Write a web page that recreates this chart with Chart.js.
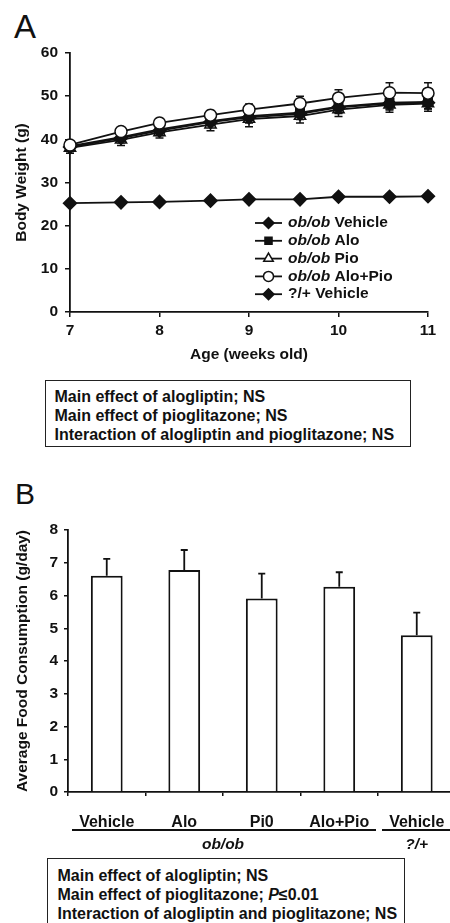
<!DOCTYPE html>
<html>
<head>
<meta charset="utf-8">
<script src="https://cdn.jsdelivr.net/npm/chart.js@4.4.1/dist/chart.umd.min.js"></script>
<style>
  html, body { margin: 0; padding: 0; background: #fff; }
  body { width: 450px; height: 923px; overflow: hidden; position: relative; font-family: "Liberation Sans", Arial, sans-serif; color: #111; }
  .painel { position: absolute; line-height: 1; }
  .caixa { position: absolute; border: 1.5px solid #222; font-weight: bold; font-size: 16px; line-height: 19px; box-sizing: border-box; white-space: nowrap; }
  canvas { position: absolute; left: 0; }
</style>
</head>
<body>
<div class="painel" style="left:14px; top:10px; font-size:33px;">A</div>
<canvas id="graficoPeso" width="450" height="372" style="top:0"></canvas>
<div class="caixa" style="left:45px; top:380px; width:366px; height:67px; padding:6px 0 0 8.5px;">Main effect of alogliptin; NS<br>Main effect of pioglitazone; NS<br>Interaction of alogliptin and pioglitazone; NS</div>
<div class="painel" style="left:15px; top:479px; font-size:30px;">B</div>
<canvas id="graficoConsumo" width="470" height="358" style="top:500px"></canvas>
<div class="caixa" style="left:47px; top:858px; width:358px; height:90px; padding:7px 0 0 9.5px;">Main effect of alogliptin; NS<br>Main effect of pioglitazone; <i>P</i>≤0.01<br>Interaction of alogliptin and pioglitazone; NS</div>

<script>
// Painel A: peso corporal (g) por idade (semanas)
const idades = [7, 7.57, 8, 8.57, 9, 9.57, 10, 10.57, 11];
const pesoVehicle = [38.2, 40.3, 42.0, 44.0, 45.1, 45.9, 47.4, 48.3, 48.5];
const pesoAlo = [38.4, 40.5, 42.3, 44.2, 45.4, 46.2, 47.6, 48.5, 48.7];
const pesoPio = [38.0, 39.9, 41.6, 43.4, 44.7, 45.4, 46.9, 48.0, 48.3];
const pesoAloPio = [38.7, 41.8, 43.8, 45.6, 46.9, 48.3, 49.6, 50.8, 50.7];
const pesoControle = [25.2, 25.4, 25.5, 25.8, 26.1, 26.1, 26.7, 26.7, 26.8];

const erroVehicle = [1.0, 1.1, 1.1, 1.2, 1.3, 1.3, 1.4, 1.5, 1.5];
const erroAlo = [1.0, 1.0, 1.2, 1.2, 1.3, 1.4, 1.4, 1.5, 1.6];
const erroPio = [1.2, 1.3, 1.3, 1.4, 1.8, 1.6, 1.6, 1.7, 1.8];
const erroAloPio = [0.9, 1.0, 1.0, 1.1, 1.3, 1.7, 1.9, 2.3, 2.4];
const erroControle = [0.4, 0.4, 0.4, 0.4, 0.5, 0.5, 0.5, 0.5, 0.5];

// legenda: parte em itálico + resto do texto
const legendaItalico = ["ob/ob", "ob/ob", "ob/ob", "ob/ob", ""];
const legendaResto = [" Vehicle", " Alo", " Pio", " Alo+Pio", "?/+ Vehicle"];

// Painel B: consumo médio de ração (g/dia)
const categorias = ["Vehicle", "Alo", "Pi0", "Alo+Pio", "Vehicle"];
const consumo = [6.60, 6.78, 5.91, 6.27, 4.79];
const erroConsumo = [0.52, 0.61, 0.76, 0.44, 0.69];
const grupos = ["ob/ob", "?/+"];
const grupoInicio = [0, 4];
const grupoFim = [3, 4];

const familia = '"Liberation Sans", Arial, sans-serif';
const fonte = { family: familia, size: 15.5, weight: "bold" };
const preto = "#111";
Chart.defaults.font.family = familia;
Chart.defaults.color = preto;

// Barras de erro desenhadas pela escala do próprio gráfico
const barrasErro = {
  id: "barrasErro",
  beforeDatasetsDraw(chart, args, opts) {
    const ctx = chart.ctx;
    ctx.save();
    ctx.strokeStyle = preto;
    ctx.lineWidth = opts.largura;
    chart.data.datasets.forEach((ds, i) => {
      if (!ds.erros) return;
      const meta = chart.getDatasetMeta(i);
      const escala = chart.scales[meta.yAxisID];
      meta.data.forEach((el, j) => {
        const bruto = ds.data[j];
        const v = typeof bruto === "object" ? bruto.y : bruto;
        const e = ds.erros[j];
        const topo = escala.getPixelForValue(v + e);
        const base = escala.getPixelForValue(opts.soCima ? v : v - e);
        ctx.beginPath();
        ctx.moveTo(el.x, base);
        ctx.lineTo(el.x, topo);
        ctx.moveTo(el.x - opts.tampa, topo);
        ctx.lineTo(el.x + opts.tampa, topo);
        if (!opts.soCima) {
          ctx.moveTo(el.x - opts.tampa, base);
          ctx.lineTo(el.x + opts.tampa, base);
        }
        ctx.stroke();
      });
    });
    ctx.restore();
  }
};

// Legenda do painel A (texto misto itálico / normal)
const legendaPeso = {
  id: "legendaPeso",
  afterDraw(chart) {
    const ctx = chart.ctx;
    ctx.save();
    chart.data.datasets.forEach((ds, i) => {
      const y = 223 + i * 17.8;
      ctx.strokeStyle = preto;
      ctx.lineWidth = 1.8;
      ctx.beginPath();
      ctx.moveTo(255, y);
      ctx.lineTo(282, y);
      ctx.stroke();
      ctx.fillStyle = ds.pointBackgroundColor;
      ctx.lineWidth = 1.5;
      Chart.helpers.drawPoint(ctx, { pointStyle: ds.pointStyle, radius: ds.pointRadius - 1, borderWidth: 1.5, rotation: 0 }, 268.5, y);
      ctx.fillStyle = preto;
      ctx.textBaseline = "middle";
      let x = 288;
      if (legendaItalico[i]) {
        ctx.font = "italic bold 15.5px " + familia;
        ctx.fillText(legendaItalico[i], x, y);
        x += ctx.measureText(legendaItalico[i]).width;
      }
      ctx.font = "bold 15.5px " + familia;
      ctx.fillText(legendaResto[i], x, y);
    });
    ctx.restore();
  }
};

function serie(valores, erros, estilo, raio, fundo, ordem) {
  return {
    data: idades.map((x, i) => ({ x: x, y: valores[i] })),
    erros: erros,
    borderColor: preto,
    borderWidth: 1.8,
    pointStyle: estilo,
    pointRadius: raio,
    pointBackgroundColor: fundo,
    pointBorderColor: preto,
    pointBorderWidth: 1.5,
    tension: 0,
    fill: false,
    clip: false,
    order: ordem
  };
}

const eixoBase = (tick) => ({
  grid: { drawOnChartArea: false, drawTicks: true, tickLength: tick, color: preto, lineWidth: 1.5 },
  border: { color: preto, width: 1.8 }
});

new Chart(document.getElementById("graficoPeso"), {
  type: "line",
  data: {
    datasets: [
      serie(pesoVehicle, erroVehicle, "rectRot", 6.5, preto, 1),
      serie(pesoAlo, erroAlo, "rect", 6, preto, 2),
      serie(pesoPio, erroPio, "triangle", 6.5, "#fff", 3),
      serie(pesoAloPio, erroAloPio, "circle", 6, "#fff", 0),
      serie(pesoControle, erroControle, "rectRot", 6.5, preto, 4)
    ]
  },
  options: {
    responsive: false,
    animation: false,
    events: [],
    layout: { padding: { top: 53, right: 22, left: 0, bottom: 0 } },
    plugins: {
      legend: { display: false },
      tooltip: { enabled: false },
      barrasErro: { largura: 1.5, tampa: 4, soCima: false }
    },
    scales: {
      x: Object.assign(eixoBase(5), {
        type: "linear", min: 7, max: 11,
        ticks: { stepSize: 1, padding: 4, font: fonte, color: preto },
        title: { display: true, text: "Age (weeks old)", font: fonte, color: preto, padding: { top: 0, bottom: 8 } },
        afterFit(s) { s.height = 60; }
      }),
      y: Object.assign(eixoBase(5), {
        min: 0, max: 60,
        ticks: { stepSize: 10, padding: 7, font: fonte, color: preto },
        title: { display: true, text: "Body Weight (g)", font: fonte, color: preto, padding: { top: 12, bottom: 0 } },
        afterFit(s) { s.width = 70; }
      })
    }
  },
  plugins: [barrasErro, legendaPeso]
});

// Linhas e rótulos de grupo abaixo do eixo x do painel B
const gruposEixo = {
  id: "gruposEixo",
  afterDraw(chart) {
    const ctx = chart.ctx;
    const ex = chart.scales.x;
    const passo = ex.getPixelForValue(1) - ex.getPixelForValue(0);
    const yLinha = chart.chartArea.bottom + 38;
    ctx.save();
    ctx.strokeStyle = preto;
    ctx.fillStyle = preto;
    ctx.lineWidth = 1.8;
    ctx.font = "italic bold 15.5px " + familia;
    ctx.textAlign = "center";
    ctx.textBaseline = "middle";
    grupos.forEach((nome, g) => {
      const esq = ex.getPixelForValue(grupoInicio[g]) - passo / 2 + 4;
      const dir = ex.getPixelForValue(grupoFim[g]) + passo / 2 - 2;
      ctx.beginPath();
      ctx.moveTo(esq, yLinha);
      ctx.lineTo(dir, yLinha);
      ctx.stroke();
      const meio = (ex.getPixelForValue(grupoInicio[g]) + ex.getPixelForValue(grupoFim[g])) / 2;
      ctx.fillText(nome, meio, yLinha + 15);
    });
    ctx.restore();
  }
};

new Chart(document.getElementById("graficoConsumo"), {
  type: "bar",
  data: {
    labels: categorias,
    datasets: [{
      data: consumo,
      erros: erroConsumo,
      backgroundColor: "#fff",
      borderColor: preto,
      borderWidth: 2,
      borderSkipped: "bottom",
      barPercentage: 0.41,
      categoryPercentage: 1
    }]
  },
  options: {
    responsive: false,
    animation: false,
    events: [],
    layout: { padding: { top: 30, right: 14.5, left: 0, bottom: 0 } },
    plugins: {
      legend: { display: false },
      tooltip: { enabled: false },
      barrasErro: { largura: 1.8, tampa: 3.5, soCima: true }
    },
    scales: {
      x: Object.assign(eixoBase(4), {
        ticks: { padding: 17, font: { family: familia, size: 16, weight: "bold" }, color: preto },
        afterFit(s) { s.height = 66; }
      }),
      y: Object.assign(eixoBase(4), {
        min: 0, max: 8,
        ticks: { stepSize: 1, padding: 6, font: fonte, color: preto },
        title: { display: true, text: "Average Food Consumption (g/day)", font: fonte, color: preto, padding: { top: 13.5, bottom: 0 } },
        afterFit(s) { s.width = 68; }
      })
    }
  },
  plugins: [barrasErro, gruposEixo]
});
</script>
</body>
</html>
